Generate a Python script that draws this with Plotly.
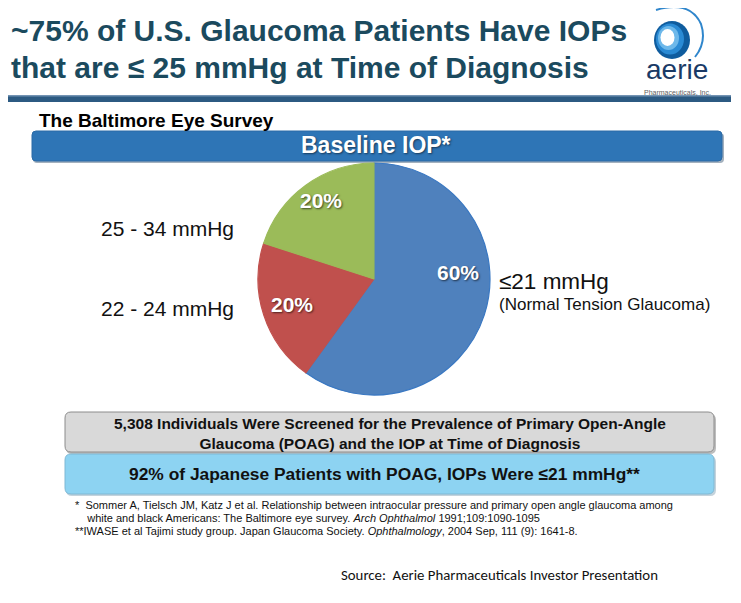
import plotly.graph_objects as go

# page body has an 8px margin: figure is sized to fit inside it,
# and positions below are given in window pixels, converted with that offset.
OFF = 8
W, H = 741 - 2 * OFF, 603 - 2 * OFF

# ---- data ----
slice_labels = ["≤21 mmHg", "22 - 24 mmHg", "25 - 34 mmHg"]
slice_values = [60, 20, 20]
slice_colors = ["#4F81BD", "#C0504D", "#9BBB59"]
slice_edges = ["#3A78C2", "#C0504D", "#9BBB59"]
slice_text_pos = [(458, 272), (292, 305), (321, 200)]

title_lines = ["~75% of U.S. Glaucoma Patients Have IOPs",
               "that are ≤ 25 mmHg at Time of Diagnosis"]
subtitle = "The Baltimore Eye Survey"
bar_text = "Baseline IOP*"
box1_text = "5,308 Individuals Were Screened for the Prevalence of Primary Open-Angle<br>Glaucoma (POAG) and the IOP at Time of Diagnosis"
box2_text = "92% of Japanese Patients with POAG, IOPs Were ≤21 mmHg**"
footnotes = [
    "*  Sommer A, Tielsch JM, Katz J et al. Relationship between intraocular pressure and primary open angle glaucoma among",
    "    white and black Americans: The Baltimore eye survey. <i>Arch Ophthalmol</i> 1991;109:1090-1095",
    "**IWASE et al Tajimi study group. Japan Glaucoma Society. <i>Ophthalmology</i>, 2004 Sep, 111 (9): 1641-8.",
]
source_text = "Source:  Aerie Pharmaceuticals Investor Presentation"


def px(x):
    return (x - OFF) / W


def py(y):
    return 1 - (y - OFF) / H


def rrect(x0, y0, x1, y1, r):
    return (f"M {px(x0 + r)} {py(y0)} L {px(x1 - r)} {py(y0)} "
            f"Q {px(x1)} {py(y0)} {px(x1)} {py(y0 + r)} "
            f"L {px(x1)} {py(y1 - r)} Q {px(x1)} {py(y1)} {px(x1 - r)} {py(y1)} "
            f"L {px(x0 + r)} {py(y1)} Q {px(x0)} {py(y1)} {px(x0)} {py(y1 - r)} "
            f"L {px(x0)} {py(y0 + r)} Q {px(x0)} {py(y0)} {px(x0 + r)} {py(y0)} Z")


FONT = "Liberation Sans, Arial, sans-serif"

# pie geometry (window pixels)
cx, cy, R = 374, 279, 116

fig = go.Figure()
fig.add_trace(go.Pie(
    labels=slice_labels, values=slice_values, sort=False, direction="clockwise",
    rotation=0,
    marker=dict(colors=slice_colors, line=dict(color=slice_edges, width=1.2)),
    textinfo="none",
    domain=dict(x=[px(cx - R), px(cx + R)], y=[py(cy + R), py(cy - R)]),
    showlegend=False, hoverinfo="label+percent",
))

shapes = []
# header rule
shapes.append(dict(type="rect", xref="paper", yref="paper", x0=px(0), x1=px(731), y0=py(96), y1=py(102),
                   fillcolor="#2C5A82", line=dict(width=0), layer="below"))
shapes.append(dict(type="rect", xref="paper", yref="paper", x0=px(0), x1=px(731), y0=py(95), y1=py(96.5),
                   fillcolor="#7393B3", line=dict(width=0), layer="below"))
# blue header bar
shapes.append(dict(type="path", xref="paper", yref="paper", path=rrect(33, 133, 724, 163, 4),
                   fillcolor="#A4B1BE", line=dict(width=0), layer="below"))
shapes.append(dict(type="path", xref="paper", yref="paper", path=rrect(32, 131, 722, 161, 4),
                   fillcolor="#2E75B6", line=dict(color="#2A6AA6", width=1), layer="below"))
# grey box
shapes.append(dict(type="path", xref="paper", yref="paper", path=rrect(66, 414, 716, 454, 6),
                   fillcolor="#BDBDBD", line=dict(width=0), layer="below"))
shapes.append(dict(type="path", xref="paper", yref="paper", path=rrect(65, 412, 714, 452, 6),
                   fillcolor="#D9D9D9", line=dict(color="#8C8C8C", width=1), layer="below"))
# light blue box
shapes.append(dict(type="path", xref="paper", yref="paper", path=rrect(66, 456, 716, 496, 6),
                   fillcolor="#C4D3DC", line=dict(width=0), layer="below"))
shapes.append(dict(type="path", xref="paper", yref="paper", path=rrect(65, 454, 714, 494, 6),
                   fillcolor="#8DD3F2", line=dict(color="#7FB8D4", width=1), layer="below"))


def ellipse(x, y, rx, ry, fill, line=None, lw=0):
    return dict(type="circle", xref="paper", yref="paper",
                x0=px(x - rx), x1=px(x + rx), y0=py(y + ry), y1=py(y - ry),
                fillcolor=fill, line=dict(color=line or fill, width=lw))


# logo swirl (approximation)
shapes.append(dict(type="path", xref="paper", yref="paper",
                   path=f"M {px(656)} {py(10)} Q {px(690)} {py(0)} {px(701)} {py(24)} Q {px(707)} {py(42)} {px(695)} {py(57)}",
                   line=dict(color="#2F86CC", width=2)))
shapes.append(ellipse(672, 40, 18, 19, "#0F5C9E"))
shapes.append(ellipse(670, 39, 14, 15.5, "#2A8AD4"))
shapes.append(ellipse(668.5, 38, 10.5, 12, "#6DB8EA"))
shapes.append(ellipse(667.5, 37.5, 7, 8.5, "white"))

annotations = []


def txt(x, y, text, size, color="#000", bold=False, anchor="left", family=FONT, shadow=None):
    f = dict(family=family, size=size, color=color, weight="bold" if bold else "normal")
    if shadow:
        f["shadow"] = shadow
    annotations.append(dict(x=px(x), y=py(y), xref="paper", yref="paper", text=text, showarrow=False,
                            xanchor=anchor, yanchor="middle", align="center", font=f))


# pie percentage labels
for v, (tx, ty) in zip(slice_values, slice_text_pos):
    txt(tx, ty, f"{v}%", 21, "white", True, "center", shadow="1px 1px 2px rgba(0,0,0,0.6)")

txt(9, 30, title_lines[0], 30, "#1B4A5E", True)
txt(9, 68, title_lines[1], 30, "#1B4A5E", True)
txt(677, 70, "aerie", 28, "#1A3A66", False, "center")
txt(677, 92, "Pharmaceuticals, Inc.", 7, "#5E5E5E", False, "center")
txt(37, 120, subtitle, 19, "#000", True)
txt(376, 145, bar_text, 23, "white", True, "center", shadow="1px 1px 2px rgba(0,0,0,0.5)")
txt(99, 228, slice_labels[2], 21, "#111")
txt(99, 308, slice_labels[1], 21, "#111")
txt(497, 282, slice_labels[0], 22.5, "#111")
txt(497, 305, "(Normal Tension Glaucoma)", 17, "#111")
txt(390, 433, box1_text, 15.5, "#111", True, "center")
txt(384, 474, box2_text, 17.4, "#111", True, "center")
for i, f in enumerate(footnotes):
    txt(73, 505 + 13 * i, f, 11, "#111")
txt(339, 575, source_text, 14.8, "#111", family="Carlito, Open Sans, sans-serif")

fig.update_layout(
    width=W, height=H, autosize=False,
    margin=dict(l=0, r=0, t=0, b=0),
    paper_bgcolor="white", plot_bgcolor="white",
    shapes=shapes, annotations=annotations,
)

fig.write_html("out.html")
